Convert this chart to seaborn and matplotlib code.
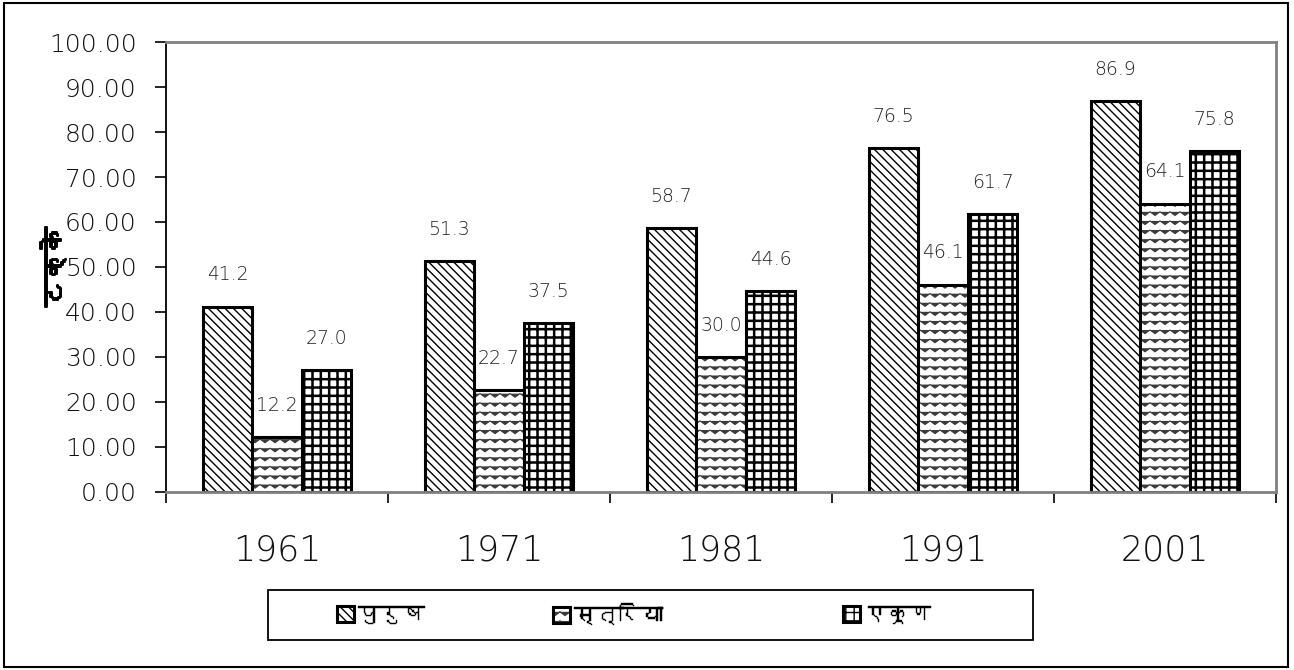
import warnings
import numpy as np
import pandas as pd
import matplotlib
matplotlib.use("Agg")
import matplotlib.pyplot as plt
import matplotlib.hatch as mhatch
import matplotlib.patheffects as pe
from matplotlib.path import Path
from matplotlib.patches import Rectangle
from matplotlib import font_manager
from matplotlib.ft2font import FT2Font
import seaborn as sns

warnings.filterwarnings("ignore")

# données
annees = ["1961", "1971", "1981", "1991", "2001"]
series = ["पुरुष", "स्त्रिया", "एकूण"]
hommes = [41.2, 51.3, 58.7, 76.5, 86.9]
femmes = [12.2, 22.7, 30.0, 46.1, 64.1]
total = [27.0, 37.5, 44.6, 61.7, 75.8]
ylabel = "टक्के"
yticks = [0, 10, 20, 30, 40, 50, 60, 70, 80, 90, 100]


class ZigzagHatch(mhatch.HatchPatternBase):
    """Hachure en zigzag (caractère '~'), absente de matplotlib."""
    periods = 10

    def __init__(self, hatch, density):
        self.num_lines = 11 if "~" in hatch else 0
        self.npts = 2 * self.periods + 1
        self.num_vertices = self.num_lines * self.npts

    def set_vertices_and_codes(self, vertices, codes):
        steps, step = np.linspace(0.0, 1.0, self.num_lines, False, retstep=True)
        steps += step / 2.
        xs = np.linspace(0.0, 1.0, self.npts)
        signe = np.where(np.arange(self.npts) % 2 == 0, 1.0, -1.0)
        for i, y0 in enumerate(steps):
            seg = slice(i * self.npts, (i + 1) * self.npts)
            vertices[seg, 0] = xs
            vertices[seg, 1] = y0 + 0.018 * signe
            codes[seg] = Path.LINETO
            codes[i * self.npts] = Path.MOVETO


mhatch._hatch_types.append(ZigzagHatch)


def _find_deva():
    """Cherche une police devanagari installée."""
    trouvees = []
    for f in font_manager.fontManager.ttflist:
        try:
            if 0x0915 in FT2Font(f.fname).get_charmap():
                trouvees.append(f)
        except Exception:
            pass
    trouvees.sort(key=lambda f: (f.weight not in (400, "normal"), f.style != "normal"))
    return trouvees[0].name if trouvees else "DejaVu Sans"


deva = _find_deva()

sns.set_style("white")
plt.rcParams["font.family"] = ["DejaVu Sans", deva]
plt.rcParams["hatch.linewidth"] = 1.0
plt.rcParams["hatch.color"] = "black"

df = pd.DataFrame({
    "annee": annees * 3,
    "serie": [series[0]] * 5 + [series[1]] * 5 + [series[2]] * 5,
    "valeur": hommes + femmes + total,
})

fig = plt.figure(figsize=(12.94, 6.70), dpi=100)
ax = fig.add_axes([0.1283, 0.2657, 0.8578, 0.6716])

sns.barplot(data=df, x="annee", y="valeur", hue="serie", order=annees,
            hue_order=series, palette=["white"] * 3, edgecolor="black",
            linewidth=2.2, width=0.67, gap=0, legend=False, ax=ax)

hatches = ["\\\\\\\\", "~", "++"]
hatch_lw = [1.0, 0.8, 1.8]
hatch_col = ["black", "#3a3a3a", "black"]
for cont, h, lw, hc in zip(ax.containers, hatches, hatch_lw, hatch_col):
    for bar in cont:
        bar.set_hatch(h)
        if hasattr(bar, "set_hatch_linewidth"):
            bar.set_hatch_linewidth(lw)
        if hasattr(bar, "set_hatchcolor"):
            bar.set_hatchcolor(hc)
        else:
            bar._hatch_color = matplotlib.colors.to_rgba(hc)
    ax.bar_label(cont, fmt="%.1f", padding=16, fontsize=13.5,
                 color="#222222", fontweight="light")

ax.set_ylim(0, 100)
ax.set_xlim(-0.5, 4.5)
ax.set_yticks(yticks)
ax.set_yticklabels(["%.2f" % v for v in yticks], fontsize=18, fontweight="light",
                   color="#111111")
ax.tick_params(axis="y", length=8, width=1.2, color="black", pad=13, left=True)
ax.tick_params(axis="x", which="major", length=0, pad=30, labelsize=25,
               labelcolor="#111111")
for lab in ax.get_xticklabels():
    lab.set_fontweight("light")
ax.set_xticks(np.arange(-0.5, 5, 1), minor=True)
ax.tick_params(axis="x", which="minor", length=8, width=1.2, color="black",
               bottom=True)
ax.set_xlabel("")
ax.set_ylabel(ylabel, fontsize=19, family=[deva], color="black",
              path_effects=[pe.withStroke(linewidth=1.4, foreground="black")])
ax.yaxis.set_label_coords(-0.09, 0.5)

for side in ["top", "right", "bottom"]:
    ax.spines[side].set_color("#808080")
    ax.spines[side].set_linewidth(2)
ax.spines["left"].set_color("black")
ax.spines["left"].set_linewidth(1.3)

# légende : cadre dessiné à part, une entrée par position
fig.patches.append(Rectangle((0.2071, 0.0448), 0.5912, 0.0746,
                             transform=fig.transFigure, fill=False,
                             edgecolor="black", linewidth=1.3))
pos_leg = [0.2604, 0.4274, 0.6515]
for cont, nom, x in zip(ax.containers, series, pos_leg):
    leg = fig.legend([cont[0]], [nom], loc="center left",
                     bbox_to_anchor=(x, 0.082), bbox_transform=fig.transFigure,
                     frameon=False, borderpad=0, borderaxespad=0,
                     handlelength=0.75, handleheight=0.75, handletextpad=0.2,
                     prop={"family": [deva], "size": 16})
    for t in leg.get_texts():
        t.set_color("black")
        t.set_path_effects([pe.withStroke(linewidth=0.3, foreground="black")])

fig.patches.append(Rectangle((0.003, 0.0045), 0.9925, 0.991,
                             transform=fig.transFigure, fill=False,
                             edgecolor="black", linewidth=1.5))

fig.savefig("out.png", dpi=100)
